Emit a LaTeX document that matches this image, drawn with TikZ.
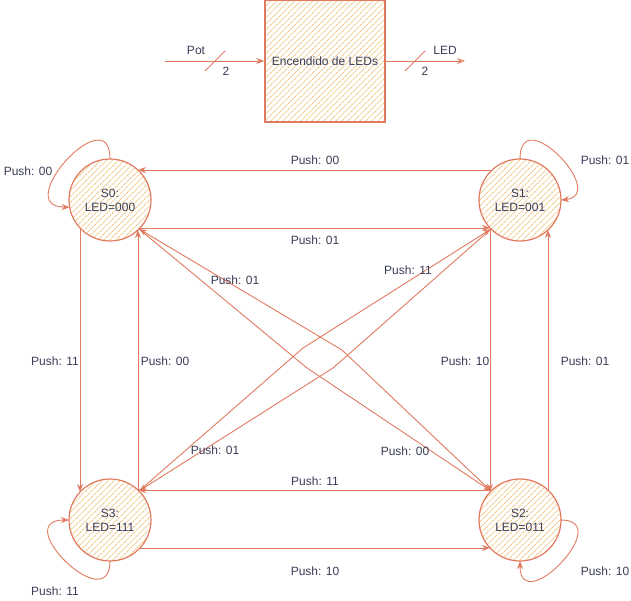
\documentclass[tikz,border=0pt]{standalone}
\usepackage{fontspec}
\setmainfont{Liberation Sans}
\usetikzlibrary{arrows.meta, patterns.meta}
\definecolor{coral}{HTML}{E07A5F}
\definecolor{sand}{HTML}{F2CC8F}
\definecolor{ink}{HTML}{393C56}

\begin{document}
\begin{tikzpicture}[x=1pt, y=-1pt, font=\fontsize{12}{14}\selectfont, text=ink]
	\tikzstyle {hatched} = [draw = coral, line width = 1.2pt, pattern = {Lines[angle = 45, distance = 4pt, line width = 1pt]}, pattern color = sand];
	\tikzstyle {state} = [hatched, circle, minimum size = 82pt, inner sep = 0pt, outer sep = 0pt, align = center];
	\tikzstyle {trans} = [draw = coral, line width = 0.9pt, -{Stealth[length = 8pt, width = 6pt]}];
	\tikzstyle {lbl} = [inner sep = 1pt];
	\useasboundingbox (0, 0) rectangle (631, 601);
	% block on top
	\node[hatched, line width = 1.5pt, minimum width = 120pt, minimum height = 122pt, inner sep = 0pt] (block) at (325, 61) {Encendido de LEDs};
	\coordinate (pot) at (165, 61);
	\coordinate (led) at (465, 61);
	\draw[trans] (pot) -- (block);
	\draw[trans, -{Stealth[open, length = 8pt, width = 6pt]}] (block) -- (led);
	\draw[coral, line width = 0.8pt] (205, 71) -- (225, 51);
	\draw[coral, line width = 0.8pt] (405, 71) -- (425, 51);
	\node (potname) at (196, 50) {Pot};
	\node (potbits) at (226, 71) {2};
	\node (ledname) at (445, 50) {LED};
	\node (ledbits) at (425, 71) {2};
	% states
	\foreach \num/\px/\py/\code in {0/110/200/000, 1/520/200/001, 2/520/520/011, 3/110/520/111} {
			\node[state] (s\num) at (\px, \py) {S\num:\\LED=\code};
		}
	% sides
	\draw[trans] (s1.133) -- (s0.47);
	\draw[trans] (s0.-43) -- (s1.-137);
	\draw[trans] (s2.133) -- (s3.47);
	\draw[trans] (s3.-43) -- (s2.-137);
	\draw[trans] (s0.223) -- (s3.137);
	\draw[trans] (s3.47) -- (s0.-47);
	\draw[trans] (s1.223) -- (s2.137);
	\draw[trans] (s2.47) -- (s1.-47);
	% diagonals
	\coordinate (k1) at (342, 350);
	\coordinate (k2) at (307, 368);
	\coordinate (k3) at (303, 348);
	\coordinate (k4) at (333, 368);
	\draw[trans] (s2.135) -- (k1) -- (s0.-45);
	\draw[trans] (s0.-45) -- (k2) -- (s2.135);
	\draw[trans] (s3.45) -- (k3) -- (s1.-135);
	\draw[trans] (s1.-135) -- (k4) -- (s3.45);
	% loops
	\draw[trans] (s0.north) .. controls +(0, -62) and +(-60, 0) .. (s0.190);
	\draw[trans] (s1.north) .. controls +(0, -58) and +(48, -5) .. (s1.east);
	\draw[trans] (s3.south) .. controls +(0, 58) and +(-60, 0) .. (s3.west);
	\draw[trans] (s2.east) .. controls +(55, 0) and +(0, 58) .. (s2.south);
	% labels
	\foreach \lx/\ly/\bits [count = \i] in {28/171/00, 605/160/01, 55/591/11, 605/571/10, 315/160/00, 315/240/01, 315/481/11, 315/571/10, 55/361/11, 165/361/00, 465/361/10, 585/361/01, 235/280/01, 408/270/11, 215/450/01, 405/451/00} {
			\node[lbl] (lbl\i) at (\lx, \ly) {Push: \bits};
		}
\end{tikzpicture}
\end{document}
